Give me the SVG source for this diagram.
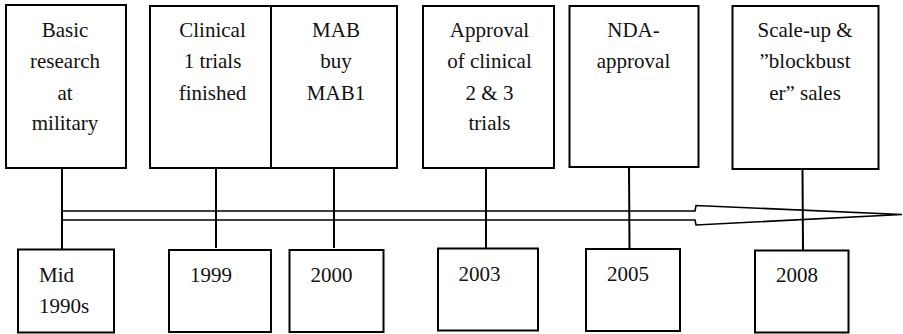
<svg xmlns="http://www.w3.org/2000/svg" width="903" height="334" viewBox="0 0 903 334">
  <style>
    .box { fill: #fff; stroke: #000; stroke-width: 2; }
    .lbl { font-family: 'Liberation Serif', 'DejaVu Serif', 'Times New Roman', serif; font-size: 21px; fill: #111; }
    .c { text-anchor: middle; }
    .link { stroke: #000; stroke-width: 2; fill: none; }
    .axis { stroke: #000; stroke-width: 1.6; fill: none; stroke-linejoin: miter; }
  </style>
  <rect width="903" height="334" fill="#fff"/>

  <!-- timeline arrow and drop lines -->
  <g id="connectors">
    <path class="axis" d="M62,211 L695,211 L696,205.5 L902,214.5 L696,225 L695,220 L62,220"/>
    <line class="link" x1="62" y1="168" x2="62" y2="249"/>
    <line class="link" x1="216" y1="168" x2="216" y2="248"/>
    <line class="link" x1="334" y1="168" x2="334" y2="248"/>
    <line class="link" x1="486" y1="168" x2="486" y2="248"/>
    <line class="link" x1="629" y1="167" x2="629.5" y2="249"/>
    <line class="link" x1="802.5" y1="169" x2="803" y2="250"/>
  </g>

  <!-- events -->
  <g id="ev-basic">
    <rect class="box" x="6" y="5" width="120" height="163"/>
    <text class="lbl c" x="65" y="37">Basic</text>
    <text class="lbl c" x="65" y="68">research</text>
    <text class="lbl c" x="65" y="100">at</text>
    <text class="lbl c" x="65" y="130">military</text>
  </g>
  <g id="ev-clinical1">
    <rect class="box" x="150" y="6" width="121" height="162"/>
    <text class="lbl c" x="212.5" y="37">Clinical</text>
    <text class="lbl c" x="212.5" y="68">1 trials</text>
    <text class="lbl c" x="212.5" y="100">finished</text>
  </g>
  <g id="ev-mab">
    <rect class="box" x="271" y="6" width="126" height="162"/>
    <text class="lbl c" x="336" y="37">MAB</text>
    <text class="lbl c" x="336" y="68">buy</text>
    <text class="lbl c" x="336" y="100">MAB1</text>
  </g>
  <g id="ev-approval">
    <rect class="box" x="423" y="6" width="131" height="162"/>
    <text class="lbl c" x="489.5" y="37">Approval</text>
    <text class="lbl c" x="489.5" y="68">of clinical</text>
    <text class="lbl c" x="489.5" y="100">2 &amp; 3</text>
    <text class="lbl c" x="489.5" y="130">trials</text>
  </g>
  <g id="ev-nda">
    <rect class="box" x="569.5" y="6" width="129" height="161"/>
    <text class="lbl c" x="633.5" y="37">NDA-</text>
    <text class="lbl c" x="633.5" y="68">approval</text>
  </g>
  <g id="ev-scaleup">
    <rect class="box" x="732.5" y="6" width="146" height="163"/>
    <text class="lbl c" x="805" y="37">Scale-up &amp;</text>
    <text class="lbl c" x="805" y="68">”blockbust</text>
    <text class="lbl c" x="805" y="100">er” sales</text>
  </g>

  <!-- dates -->
  <g id="yr-mid1990s">
    <rect class="box" x="18" y="249.5" width="96" height="83"/>
    <text class="lbl" x="39" y="282">Mid</text>
    <text class="lbl" x="39" y="313">1990s</text>
  </g>
  <g id="yr-1999">
    <rect class="box" x="169" y="250" width="102" height="82"/>
    <text class="lbl" x="190" y="282">1999</text>
  </g>
  <g id="yr-2000">
    <rect class="box" x="289.5" y="250" width="94" height="82"/>
    <text class="lbl" x="310.5" y="282">2000</text>
  </g>
  <g id="yr-2003">
    <rect class="box" x="438" y="248.5" width="100" height="82"/>
    <text class="lbl" x="458.5" y="281">2003</text>
  </g>
  <g id="yr-2005">
    <rect class="box" x="586" y="249" width="94" height="82"/>
    <text class="lbl" x="607" y="281">2005</text>
  </g>
  <g id="yr-2008">
    <rect class="box" x="755" y="250.5" width="93.5" height="82"/>
    <text class="lbl" x="776" y="282">2008</text>
  </g>
</svg>
